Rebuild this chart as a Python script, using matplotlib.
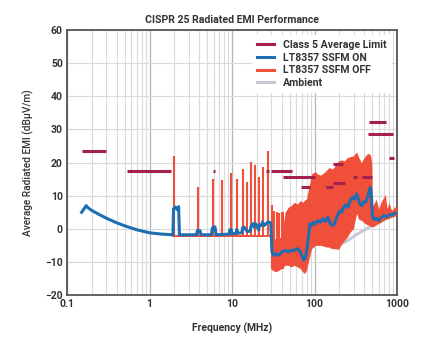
import matplotlib
matplotlib.use("Agg")
import matplotlib.pyplot as plt
from matplotlib.ticker import FixedLocator, NullFormatter

plt.rcParams["font.family"] = ["Roboto", "DejaVu Sans"]

# Class 5 average limit segments: (start MHz, stop MHz, level dBuV/m)
limit_start = [0.15, 0.53, 5.9, 26, 30, 41, 68, 138, 169, 169, 295, 373, 461, 449, 800]
limit_stop = [0.30, 1.8, 6.2, 28, 54, 100, 87, 166, 234, 222, 324, 493, 736, 902, 927]
limit_level = [23.5, 17.5, 17.5, 17.5, 17.5, 15.5, 12.5, 12.5, 13.9, 19.5, 15.5, 15.5, 32.3, 28.5, 21.4]

# SSFM OFF: baseline below 30 MHz, harmonic spikes, and a band above 29 MHz
off_base_freq = [1.9, 29]
off_base_level = [-2.2, -2.2]
spike_freq = [1.95, 3.9, 5.8, 7.5, 9.6, 11.4, 13.4, 15.3, 17.2, 19.0, 21.3, 24.0, 27.5,
              30.5, 32.5, 35, 37.5, 40, 42]
spike_top = [22.0, 12.7, 14.9, 14.7, 16.9, 14.9, 18.2, 14.2, 20.2, 19.2, 15.7, 18.7, 23.6,
             7.2, 5.5, 5.2, 4.7, 5.2, 5.0]
spike_bottom = [-2.2] * 13 + [-12] * 6

band_freq = [29.5, 31, 34, 37, 40, 44, 48, 52, 57, 62, 67, 72, 76, 80, 86, 92, 97, 103, 110,
             118, 128, 140, 150, 165, 180, 195, 214, 230, 250, 270, 295, 324, 345, 370, 400,
             430, 460, 480, 494, 505, 530, 560, 600, 640, 690, 720, 760, 800, 860, 930, 1000]
band_high = [-3, -3, -3, -3, -2, 5, 6.5, 7, 8, 7.5, 8.5, 8, 8.7, 9, 13, 16.5, 17, 17.2, 16.5,
             16.2, 16.8, 17.7, 18.5, 18, 19.2, 20.5, 20.8, 20.5, 21.5, 21.8, 22, 23.2, 21.5,
             20, 21.5, 22.5, 22.8, 22, 20, 7, 7.7, 9, 6, 8, 9.5, 10.5, 6, 8, 5.5, 6.5, 7]
band_low = [-12, -12.5, -13, -12.5, -12, -11, -11, -11.5, -11, -11.5, -12, -13, -13.5, -12.5,
            -9, -6, -5.5, -5, -5, -5, -5.2, -5.5, -5.5, -6, -6, -6.2, -4.5, -3.5, -2.5, -1,
            0, 4.7, 2.8, 2.6, 1.8, 1.3, 1.0, 0.8, 0.6, 0.6, 0.8, 1.2, 1.6, 2.0, 2.5, 2.8,
            3.0, 3.2, 3.5, 3.8, 4.0]

# SSFM ON
on_freq = [0.15, 0.16, 0.17, 0.18, 0.2, 0.25, 0.3, 0.4, 0.5, 0.7, 1.0, 1.4, 1.92,
           1.95, 2.05, 2.15, 2.25, 2.3, 3.7, 3.8, 4.1, 4.2, 5.6, 5.8, 6.2, 6.4,
           9.2, 9.4, 9.8, 10.0, 11.2, 11.4, 11.8, 13.2, 13.4, 14.0, 15.3, 16.6, 17.0,
           18.2, 18.6, 19.4, 21.0, 21.5, 23.0, 23.4, 24.5, 27.5, 29.5,
           30.5, 32, 34, 37, 40, 44, 48, 52, 57, 62, 66, 70, 74, 77, 80, 84, 88, 92,
           97, 103, 110, 118, 126, 135, 145, 156, 165, 175, 185, 195, 205, 214, 225,
           240, 255, 270, 290, 305, 324, 340, 355, 375, 395, 415, 440, 460, 475, 490,
           505, 520, 560, 600, 650, 700, 750, 800, 870, 930, 1000]
on_level = [5.0, 6.0, 7.0, 6.3, 5.5, 4.2, 3.2, 1.8, 0.9, -0.3, -1.2, -1.6, -1.8,
            6.0, 6.6, 5.8, 6.7, -1.8, -1.8, -0.5, -0.6, -1.8, -1.8, 0.3, 0.6, -1.8,
            -1.6, -0.3, -0.3, -1.5, -1.4, -0.2, -1.3, -1.2, 0.3, 0.5, -0.8, -0.7, 0.8,
            1.6, 0.5, 1.5, -0.3, 1.2, 1.0, 2.1, 1.0, 2.1, 1.8,
            -7.0, -8.0, -7.5, -8.0, -7.0, -6.5, -7.0, -6.5, -6.5, -6.0, -6.5, -8.0,
            -9.5, -9.0, -7.0, -3.0, 1.5, 1.0, 2.0, 1.5, 2.5, 2.0, 3.0, 2.2, 3.5, 1.5,
            1.0, 1.5, 3.5, 4.5, 5.5, 5.0, 6.5, 7.2, 6.5, 8.5, 9.5, 9.0, 10.5, 9.0, 7.5,
            7.0, 8.2, 8.0, 9.5, 11.5, 12.5, 10.0, 4.0, 2.8, 3.2, 2.5, 3.5, 4.0, 3.6,
            4.2, 4.2, 4.6, 4.8]

# Ambient
amb_freq = [150, 190, 250, 330, 470, 600, 800, 1000]
amb_level = [-5.6, -5.2, -3.6, -1.6, 0.6, 2.0, 3.4, 4.4]

c_limit = "#a3214b"
c_on = "#1f6db2"
c_off = "#f0503a"
c_amb = "#c3c7d6"
c_text = "#333333"

fig = plt.figure(figsize=(4.25, 3.5), dpi=100)
ax = fig.add_axes([0.158, 0.157, 0.776, 0.757])

ax.plot(amb_freq, amb_level, color=c_amb, lw=2.0, zorder=2, solid_capstyle="butt")
ax.fill_between(band_freq, band_low, band_high, color=c_off, lw=0, zorder=3)
ax.plot(off_base_freq, off_base_level, color=c_off, lw=1.4, zorder=3)
ax.vlines(spike_freq, spike_bottom, spike_top, color=c_off, lw=1.5, zorder=3)
ax.plot(on_freq, on_level, color=c_on, lw=2.2, zorder=4, solid_joinstyle="round")
ax.hlines(limit_level, limit_start, limit_stop, color=c_limit, lw=2.2, zorder=5)

# legend proxies
ax.plot([], [], color=c_limit, lw=2.2, label="Class 5 Average Limit")
ax.plot([], [], color=c_on, lw=2.2, label="LT8357 SSFM ON")
ax.plot([], [], color=c_off, lw=2.2, label="LT8357 SSFM OFF")
ax.plot([], [], color=c_amb, lw=2.2, label="Ambient")

ax.set_xscale("log")
ax.set_xlim(0.1, 1000)
ax.set_ylim(-20, 60)
ax.set_yticks(range(-20, 61, 10))
ax.xaxis.set_major_locator(FixedLocator([0.1, 1, 10, 100, 1000]))
ax.set_xticklabels(["0.1", "1", "10", "100", "1000"])
ax.xaxis.set_minor_locator(FixedLocator([m * 10.0 ** e for e in range(-1, 3) for m in range(2, 10)]))
ax.xaxis.set_minor_formatter(NullFormatter())

ax.grid(True, which="major", axis="x", color="#b5b5b5", lw=0.9, zorder=0)
ax.grid(True, which="minor", axis="x", color="#dadada", lw=0.8, zorder=0)
ax.grid(True, which="major", axis="y", color="#dadada", lw=0.8, zorder=0)
ax.set_axisbelow(True)

ax.tick_params(which="both", length=0, labelsize=7.5, colors=c_text, pad=3)
for lab in ax.get_xticklabels() + ax.get_yticklabels():
    lab.set_fontweight("bold")
for s in ax.spines.values():
    s.set_color("#555555")
    s.set_linewidth(1.3)

ax.set_title("CISPR 25 Radiated EMI Performance", fontsize=7.6, fontweight="bold",
             color=c_text, pad=5)
ax.set_xlabel("Frequency (MHz)", fontsize=7.5, fontweight="bold", color=c_text, labelpad=10)
ax.set_ylabel("Average Radiated EMI (dB\u00b5V/m)", fontsize=7.3, fontweight="medium",
              color=c_text, labelpad=8)

leg = ax.legend(loc="upper right", fontsize=7.6, frameon=True, framealpha=1,
                edgecolor="none", handlelength=1.6, handletextpad=0.9, labelspacing=0.25,
                borderaxespad=0.5, borderpad=0.45)
leg.set_zorder(6)
for t in leg.get_texts():
    t.set_fontweight("bold")
    t.set_color(c_text)

fig.savefig("out.png", dpi=100)
